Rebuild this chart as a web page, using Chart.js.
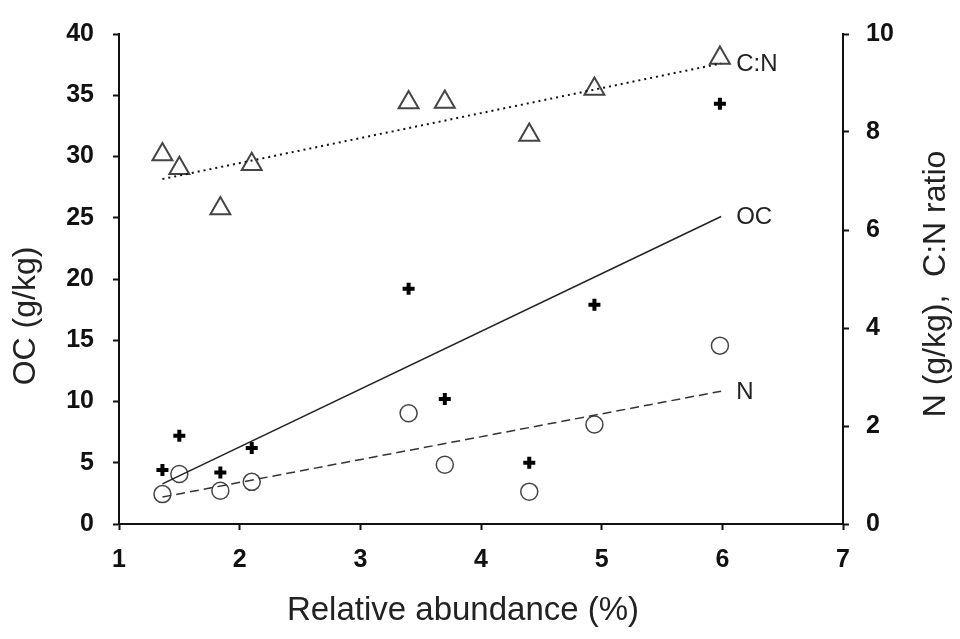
<!DOCTYPE html>
<html>
<head>
<meta charset="utf-8">
<script src="https://cdn.jsdelivr.net/npm/chart.js@4/dist/chart.umd.min.js"></script>
<style>
html,body{margin:0;background:#fff}
#wrap{width:960px;height:639px}
</style>
</head>
<body>
<div id="wrap"><canvas id="chart"></canvas></div>
<script>
// relative abundance (%) of each sample
const abundance=[1.36,1.50,1.84,2.10,3.40,3.70,4.40,4.94,5.98];
// OC g/kg (left axis)
const oc=[4.4,7.2,4.2,6.2,19.2,10.2,5.0,17.9,34.3];
// N g/kg and C:N ratio (right axis)
const nitrogen=[0.61,1.02,0.68,0.86,2.26,1.21,0.66,2.03,3.64];
const cnRatio=[7.54,7.26,6.44,7.34,8.60,8.61,7.94,8.88,9.51];
// regression line end points
const fitX=[1.36,5.99];
const ocFit=[3.27,25.1];
const nFit=[0.55,2.71];
const cnFit=[7.04,9.40];

const xTicks=[1,2,3,4,5,6,7];
const leftTicks=[0,5,10,15,20,25,30,35,40];
const rightTicks=[0,2,4,6,8,10];

const FONT='"Liberation Sans", Arial, sans-serif';
const pts=(xs,ys)=>xs.map((x,i)=>({x,y:ys[i]}));

function vText(ctx,t,x,y){
  ctx.save();
  ctx.translate(x,y);
  ctx.rotate(-Math.PI/2);
  ctx.fillText(t,0,0);
  ctx.restore();
}

const fitLabels={
  id:'fitLabels',
  afterDatasetsDraw(chart){
    const {ctx,scales}=chart;
    ctx.save();
    ctx.fillStyle='#222';
    ctx.font='24px '+FONT;
    ctx.textBaseline='middle';
    [[ocFit,'y','OC'],[nFit,'y2','N'],[cnFit,'y2','C:N']].forEach(([f,ax,t])=>{
      const x=scales.x.getPixelForValue(fitX[1]);
      const y=scales[ax].getPixelForValue(f[1]);
      ctx.fillText(t,x+15,y+1);
    });
    // axis titles; both y titles read bottom-to-top
    ctx.textAlign='center';
    ctx.font='33px '+FONT;
    ctx.fillText('Relative abundance (%)',463,611);
    ctx.font='32px '+FONT;
    vText(ctx,'OC (g/kg)',26,316);
    vText(ctx,'N (g/kg),  C:N ratio',936,284);
    ctx.restore();
  }
};

const tickFont={family:FONT,size:25,weight:'bold'};
const grid={drawOnChartArea:false,drawTicks:true,tickLength:6,tickWidth:2,tickColor:'#111'};
const border={display:true,color:'#111',width:2};

new Chart(document.getElementById('chart'),{
  type:'scatter',
  data:{datasets:[
    {label:'C:N fit',data:pts(fitX,cnFit),yAxisID:'y2',showLine:true,pointRadius:0,
      borderColor:'#111',borderWidth:2,borderDash:[2,4]},
    {label:'OC fit',data:pts(fitX,ocFit),yAxisID:'y',showLine:true,pointRadius:0,
      borderColor:'#222',borderWidth:1.5},
    {label:'N fit',data:pts(fitX,nFit),yAxisID:'y2',showLine:true,pointRadius:0,
      borderColor:'#333',borderWidth:1.5,borderDash:[9,5]},
    {label:'C:N',data:pts(abundance,cnRatio),yAxisID:'y2',pointStyle:'triangle',pointRadius:11.5,
      backgroundColor:'transparent',borderColor:'#444',pointBorderWidth:2},
    {label:'N',data:pts(abundance,nitrogen),yAxisID:'y2',pointStyle:'circle',pointRadius:8.5,
      backgroundColor:'transparent',borderColor:'#444',pointBorderWidth:1.5},
    {label:'OC',data:pts(abundance,oc),yAxisID:'y',pointStyle:'cross',pointRadius:6,
      borderColor:'#000',pointBorderWidth:4}
  ]},
  options:{
    responsive:true,maintainAspectRatio:false,animation:false,
    layout:{padding:{top:21,left:0,right:0,bottom:0}},
    plugins:{legend:{display:false},tooltip:{enabled:false}},
    scales:{
      x:{type:'linear',min:1,max:7,
        afterBuildTicks:s=>{s.ticks=xTicks.map(v=>({value:v}));},
        afterFit:s=>{s.height=115;},
        grid,border,
        ticks:{font:tickFont,color:'#111',padding:15}},
      y:{type:'linear',position:'left',min:0,max:40,
        afterBuildTicks:s=>{s.ticks=leftTicks.map(v=>({value:v}));},
        afterFit:s=>{s.width=119;},
        grid,border,
        ticks:{font:tickFont,color:'#111',padding:19}},
      y2:{type:'linear',position:'right',min:0,max:10,
        afterBuildTicks:s=>{s.ticks=rightTicks.map(v=>({value:v}));},
        afterFit:s=>{s.width=117;},
        grid,border,
        ticks:{font:tickFont,color:'#111',padding:17}}
    }
  },
  plugins:[fitLabels]
});
</script>
</body>
</html>
